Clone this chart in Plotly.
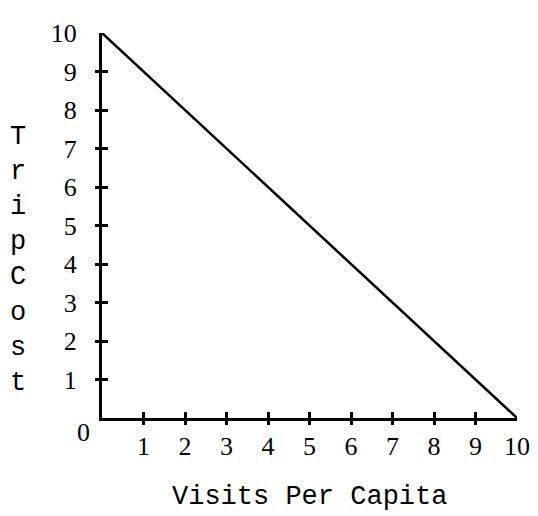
import plotly.graph_objects as go

# Data
visits = [0, 10]
trip_cost = [10, 0]
x_tick_vals = [1, 2, 3, 4, 5, 6, 7, 8, 9, 10]
x_tick_text = ["1", "2", "3", "4", "5", "6", "7", "8", "9", "10"]
y_tick_vals = [1, 2, 3, 4, 5, 6, 7, 8, 9, 10]
y_tick_text = ["1", "2", "3", "4", "5", "6", "7", "8", "9", "10"]
tick_marks = [1, 2, 3, 4, 5, 6, 7, 8, 9]
x_title = "Visits Per Capita"
y_title = "Trip Cost"

TITLE_FONT = "Liberation Mono"
NUM_FONT = "Liberation Serif"
# page body adds an 8px margin, so the figure is drawn 8px smaller
W, H = 530, 508
L, R, T, B = 94, 21, 25, 98

fig = go.Figure()
fig.add_trace(go.Scatter(x=visits, y=trip_cost, mode="lines",
                         line=dict(color="black", width=2.5),
                         cliponaxis=False, hoverinfo="skip", showlegend=False))
# invisible traces so the tick-only overlay axes exist
for xa, ya in [("x2", "y2"), ("x3", "y3")]:
    fig.add_trace(go.Scatter(x=[0], y=[0], xaxis=xa, yaxis=ya, mode="markers",
                             marker=dict(opacity=0), hoverinfo="skip", showlegend=False))

common = dict(range=[0, 10], showgrid=False, zeroline=False, automargin=False)
tickonly = dict(**common, tickvals=tick_marks, ticklen=6, tickwidth=3, tickcolor="black",
                showticklabels=False, showline=False)
fig.update_layout(
    width=W, height=H,
    margin=dict(l=L, r=R, t=T, b=B),
    paper_bgcolor="white", plot_bgcolor="white",
    font=dict(family=NUM_FONT, color="black", size=26),
    xaxis=dict(**common, showline=True, linecolor="black", linewidth=3,
               tickvals=x_tick_vals, ticktext=x_tick_text, ticks="",
               ticklabelstandoff=3),
    yaxis=dict(**common, showline=True, linecolor="black", linewidth=3,
               tickvals=y_tick_vals, ticktext=y_tick_text, ticks="",
               ticklabelstandoff=17),
    xaxis2=dict(**tickonly, overlaying="x", anchor="y2", ticks="outside"),
    yaxis2=dict(**tickonly, overlaying="y", anchor="x2", ticks="outside"),
    xaxis3=dict(**tickonly, overlaying="x", anchor="y3", ticks="inside"),
    yaxis3=dict(**tickonly, overlaying="y", anchor="x3", ticks="inside"),
    annotations=[
        dict(text="0", x=0, y=0, xref="x", yref="y", xanchor="right", yanchor="top",
             xshift=-10, yshift=2, showarrow=False, font=dict(size=26, family=NUM_FONT)),
        dict(text=x_title, x=0.5, y=-0.204, xref="paper", yref="paper",
             xanchor="center", yanchor="middle", showarrow=False,
             font=dict(size=27, family=TITLE_FONT)),
        dict(text="<br>".join(list(y_title.replace(" ", ""))), x=-0.2024, y=0.41,
             xref="paper", yref="paper", xanchor="center", yanchor="middle",
             showarrow=False, font=dict(size=27, family=TITLE_FONT)),
    ],
)

fig.write_html("out.html")
